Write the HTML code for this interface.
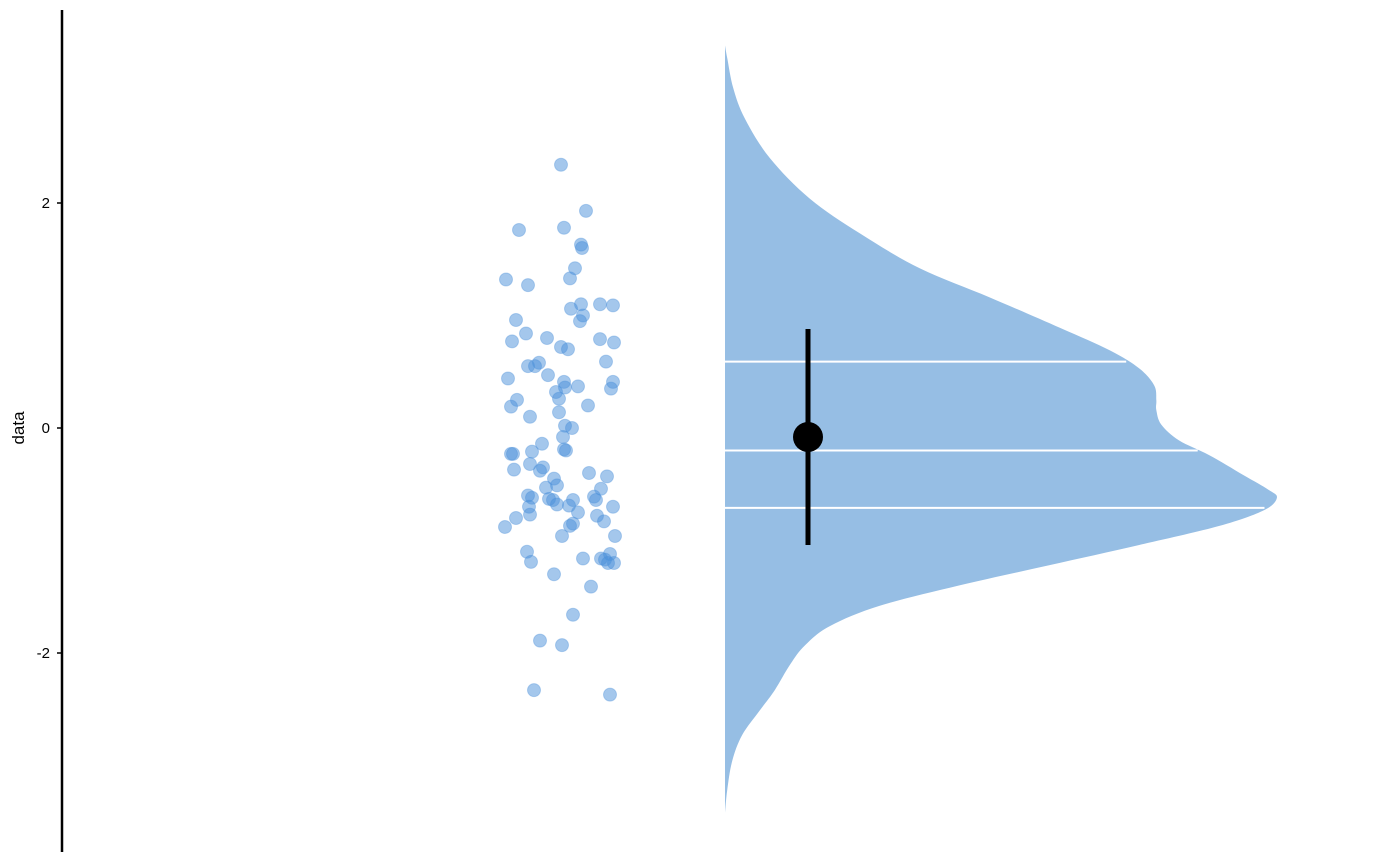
<!DOCTYPE html>
<html><head><meta charset="utf-8"><style>
html,body{margin:0;padding:0;background:#fff;}
svg{display:block;font-family:"Liberation Sans",Arial,sans-serif;}
</style></head><body>
<svg id="chart" width="1400" height="866" viewBox="0 0 1400 866"></svg>
<script>
// ---- data ----
const yTicks = [2, 0, -2];
const yTickLabels = ["2", "0", "-2"];
const pointValues = [2.34,1.93,1.76,1.78,1.63,1.60,1.42,1.32,1.27,1.33,1.10,1.10,1.09,1.06,1.00,0.95,0.96,0.84,0.80,0.77,0.72,0.70,0.79,0.76,0.58,0.55,0.55,0.59,0.44,0.47,0.41,0.36,0.37,0.32,0.35,0.41,0.26,0.25,0.19,0.20,0.14,0.10,0.02,0.00,-0.08,-0.14,-0.19,-0.20,-0.23,-0.23,-0.21,-0.32,-0.35,-0.37,-0.38,-0.40,-0.43,-0.45,-0.51,-0.53,-0.54,-0.60,-0.61,-0.62,-0.63,-0.64,-0.64,-0.64,-0.68,-0.69,-0.70,-0.70,-0.75,-0.78,-0.77,-0.80,-0.83,-0.87,-0.85,-0.88,-0.96,-0.96,-1.10,-1.16,-1.12,-1.17,-1.16,-1.19,-1.20,-1.20,-1.30,-1.41,-1.66,-1.89,-1.93,-2.33,-2.37];
const pointJitter = [0.01,0.26,-0.41,0.04,0.21,0.22,0.15,-0.54,-0.32,0.10,0.21,0.40,0.53,0.11,0.23,0.20,-0.44,-0.34,-0.13,-0.48,0.01,0.08,0.40,0.54,-0.21,-0.32,-0.25,0.46,-0.52,-0.12,0.04,0.05,0.18,-0.04,0.51,0.53,-0.01,-0.43,-0.49,0.28,-0.01,-0.30,0.05,0.12,0.03,-0.18,0.04,0.06,-0.49,-0.47,-0.28,-0.30,-0.17,-0.46,-0.20,0.29,0.47,-0.06,-0.03,-0.14,0.41,-0.32,0.34,-0.28,-0.11,-0.07,0.13,0.36,-0.03,0.09,0.53,-0.31,0.18,0.37,-0.30,-0.44,0.44,0.10,0.13,-0.55,0.02,0.55,-0.33,0.41,0.50,0.45,0.23,-0.29,0.48,0.54,-0.06,0.31,0.13,-0.20,0.02,-0.26,0.50];
const densityY = [3.40,3.29,3.02,2.75,2.40,2.04,1.73,1.42,1.16,0.89,0.69,0.53,0.38,0.25,0.16,0.03,-0.11,-0.24,-0.42,-0.55,-0.62,-0.73,-0.87,-1.04,-1.22,-1.40,-1.58,-1.76,-1.93,-2.10,-2.33,-2.51,-2.73,-2.96,-3.22,-3.42];
const densityW = [0.00,0.004,0.015,0.036,0.081,0.153,0.244,0.352,0.479,0.606,0.696,0.749,0.776,0.780,0.780,0.789,0.821,0.875,0.938,0.983,0.998,0.975,0.894,0.749,0.586,0.423,0.280,0.190,0.145,0.118,0.090,0.063,0.031,0.013,0.004,0.00];
const quantiles = [0.59, -0.20, -0.71];
const meanValue = -0.08;
const ciLow = -1.04, ciHigh = 0.88;

// ---- scales ----
const Y0 = 428, PX = 112.5;
const y = v => Y0 - v * PX;
const violinX0 = 725, violinMaxW = 553;
const ptCenter = 560, jitterPx = 100;
const xv = w => violinX0 + w * violinMaxW;

const svg = document.getElementById('chart');
const NS = 'http://www.w3.org/2000/svg';
function mk(tag, attrs, parent) {
  const el = document.createElementNS(NS, tag);
  for (const k in attrs) el.setAttribute(k, attrs[k]);
  (parent || svg).appendChild(el);
  return el;
}

// violin (smoothed with catmull-rom)
const pts = densityY.map((v, i) => [xv(densityW[i]), y(v)]);
let d = 'M' + pts[0][0] + ' ' + pts[0][1];
for (let i = 0; i < pts.length - 1; i++) {
  const p0 = pts[Math.max(0, i - 1)], p1 = pts[i], p2 = pts[i + 1], p3 = pts[Math.min(pts.length - 1, i + 2)];
  const c1 = [p1[0] + (p2[0] - p0[0]) / 6, p1[1] + (p2[1] - p0[1]) / 6];
  const c2 = [p2[0] - (p3[0] - p1[0]) / 6, p2[1] - (p3[1] - p1[1]) / 6];
  d += ` C${c1[0].toFixed(1)} ${c1[1].toFixed(1)} ${c2[0].toFixed(1)} ${c2[1].toFixed(1)} ${p2[0].toFixed(1)} ${p2[1].toFixed(1)}`;
}
d += ' Z';
const violin = mk('path', {d: d, fill: '#96bee4'});



// quantile lines
function widthAt(v) {
  for (let i = 0; i < densityY.length - 1; i++) {
    const a = densityY[i], b = densityY[i + 1];
    if (v <= a && v >= b) { const t = (a - v) / (a - b); return densityW[i] + t * (densityW[i + 1] - densityW[i]); }
  }
  return 0;
}
quantiles.forEach((q, i) => {
  const l = mk('line', {x1: violinX0, x2: xv(widthAt(q)) - 2, y1: y(q), y2: y(q), stroke: '#fff', 'stroke-width': 2});
  
  
});

// points
pointValues.forEach((v, i) => {
  const c = mk('circle', {cx: ptCenter + pointJitter[i] * jitterPx, cy: y(v), r: 6.5, fill: 'rgba(74,144,217,0.5)', stroke: 'rgba(74,144,217,0.35)', 'stroke-width': 1});
  
  
});

// mean + interval
const ci = mk('line', {x1: 808, x2: 808, y1: y(ciHigh), y2: y(ciLow), stroke: '#000', 'stroke-width': 5});


const m = mk('circle', {cx: 808, cy: y(meanValue), r: 15, fill: '#000'});



// axis
const ax = mk('line', {x1: 62, x2: 62, y1: 10, y2: 852, stroke: '#000', 'stroke-width': 2.5});


yTicks.forEach((t, i) => {
  const tk = mk('line', {x1: 57, x2: 62, y1: y(t), y2: y(t), stroke: '#000', 'stroke-width': 1.5});
  
  
  const tx = mk('text', {x: 50, y: y(t) + 5, 'text-anchor': 'end', 'font-size': 15, fill: '#000'});
  tx.textContent = yTickLabels[i];
  
  
});
const title = mk('text', {x: 0, y: 0, transform: 'translate(24,428) rotate(-90)', 'text-anchor': 'middle', 'font-size': 17, fill: '#000'});
title.textContent = 'data';


</script>
</body></html>
